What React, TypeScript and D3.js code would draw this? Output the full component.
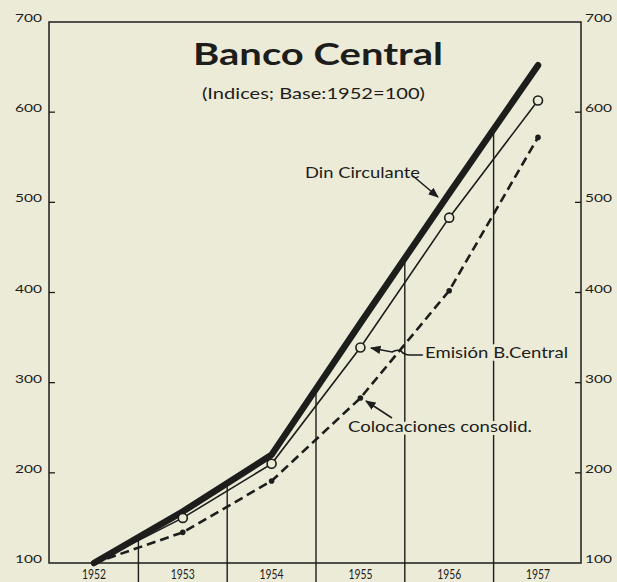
import React from "react";
import * as d3 from "d3";

const years = [1952, 1953, 1954, 1955, 1956, 1957];
const dinCirculante = [100, 157, 220, 366, 510, 652];
const emisionBCentral = [100, 150, 210, 339, 483, 613];
const colocacionesConsolid = [100, 134, 191, 283, 402, 572];
const yTicks = [100, 200, 300, 400, 500, 600, 700];

const W = 617;
const H = 582;
const BG = "#ecebd8";
const INK = "#1d1d1b";
const FONT = "Lato, 'DejaVu Sans', sans-serif";

export default function App() {
  const x = d3.scaleLinear().domain([1952, 1957]).range([94, 538]);
  const y = d3.scaleLinear().domain([100, 700]).range([563, 22]);
  const left = 49;
  const right = 581;

  const line = d3
    .line<number>()
    .x((_, i) => x(years[i]))
    .y((d) => y(d));

  const mids = years.slice(0, -1).map((yr, i) => ({
    x: (x(yr) + x(years[i + 1])) / 2,
    v: (dinCirculante[i] + dinCirculante[i + 1]) / 2,
  }));

  const knock = {
    paintOrder: "stroke" as const,
    stroke: BG,
    strokeWidth: 6,
    strokeLinejoin: "round" as const,
  };

  return (
    <svg
      width={W}
      height={H}
      style={{ position: "fixed", left: 0, top: 0, background: BG }}
    >
      <defs>
        <marker
          id="arr"
          viewBox="0 0 10 10"
          refX="9"
          refY="5"
          markerWidth="7"
          markerHeight="7"
          orient="auto"
        >
          <path d="M0,1 L10,5 L0,9 Z" fill={INK} />
        </marker>
      </defs>
      <rect x={0} y={0} width={W} height={H} fill={BG} />

      {/* mid-year vertical lines */}
      {mids.map((m, i) => (
        <line
          key={i}
          x1={m.x}
          x2={m.x}
          y1={582}
          y2={y(m.v)}
          stroke={INK}
          strokeWidth={1.4}
        />
      ))}

      {/* frame */}
      <rect
        x={left}
        y={y(700)}
        width={right - left}
        height={y(100) - y(700)}
        fill="none"
        stroke={INK}
        strokeWidth={1.5}
      />

      {/* ticks */}
      {yTicks.slice(1, -1).map((v) => (
        <g key={v}>
          <line x1={left} x2={left + 6} y1={y(v)} y2={y(v)} stroke={INK} strokeWidth={1.3} />
          <line x1={right - 6} x2={right} y1={y(v)} y2={y(v)} stroke={INK} strokeWidth={1.3} />
        </g>
      ))}

      {/* y labels */}
      {yTicks.map((v) => (
        <g key={"l" + v} fontFamily={FONT} fontSize={12} fill={INK}>
          <text
            x={42}
            y={y(v) - 3}
            textAnchor="end"
            dominantBaseline="middle"
            textLength={27}
            lengthAdjust="spacingAndGlyphs"
          >
            {v}
          </text>
          <text
            x={585}
            y={y(v) - 3}
            textAnchor="start"
            dominantBaseline="middle"
            textLength={27}
            lengthAdjust="spacingAndGlyphs"
          >
            {v}
          </text>
        </g>
      ))}

      {/* x labels */}
      {years.map((yr) => (
        <text
          key={yr}
          x={x(yr)}
          y={575}
          textAnchor="middle"
          dominantBaseline="middle"
          fontFamily={FONT}
          fontSize={14}
          fill={INK}
          textLength={24}
          lengthAdjust="spacingAndGlyphs"
        >
          {yr}
        </text>
      ))}

      {/* series */}
      <path
        d={line(colocacionesConsolid) || ""}
        fill="none"
        stroke={INK}
        strokeWidth={2.6}
        strokeDasharray="9 5"
      />
      <path d={line(emisionBCentral) || ""} fill="none" stroke={INK} strokeWidth={1.6} />
      <path
        d={line(dinCirculante) || ""}
        fill="none"
        stroke={INK}
        strokeWidth={6.5}
        strokeLinecap="round"
        strokeLinejoin="round"
      />
      {colocacionesConsolid.slice(1).map((v, i) => (
        <circle key={"c" + i} cx={x(years[i + 1])} cy={y(v)} r={2.8} fill={INK} />
      ))}
      {emisionBCentral.slice(1).map((v, i) => (
        <circle
          key={"e" + i}
          cx={x(years[i + 1])}
          cy={y(v)}
          r={4.5}
          fill={BG}
          stroke={INK}
          strokeWidth={1.6}
        />
      ))}

      {/* title */}
      <text
        x={193}
        y={65}
        fontFamily={FONT}
        fontWeight="bold"
        fontSize={30}
        fill={INK}
        textLength={250}
        lengthAdjust="spacingAndGlyphs"
      >
        Banco Central
      </text>
      <text
        x={202}
        y={99}
        fontFamily={FONT}
        fontSize={16}
        fill={INK}
        textLength={223}
        lengthAdjust="spacingAndGlyphs"
      >
        (Indices; Base:1952=100)
      </text>

      {/* annotations */}
      <text
        x={305}
        y={178}
        fontFamily={FONT}
        fontSize={15}
        fill={INK}
        textLength={115}
        lengthAdjust="spacingAndGlyphs"
        style={knock}
      >
        Din Circulante
      </text>
      <line x1={413} y1={176} x2={438} y2={197} stroke={INK} strokeWidth={1.5} markerEnd="url(#arr)" />

      <path
        d="M424,355 L410,355 Q404,355 401,351 Q397,349 392,352 L371,348"
        fill="none"
        stroke={INK}
        strokeWidth={1.5}
        markerEnd="url(#arr)"
      />
      <text
        x={425}
        y={358}
        fontFamily={FONT}
        fontSize={15}
        fill={INK}
        textLength={143}
        lengthAdjust="spacingAndGlyphs"
        style={knock}
      >
        Emisión B.Central
      </text>

      <line x1={392} y1={418} x2={366} y2={401} stroke={INK} strokeWidth={1.5} markerEnd="url(#arr)" />
      <text
        x={348}
        y={432}
        fontFamily={FONT}
        fontSize={15}
        fill={INK}
        textLength={184}
        lengthAdjust="spacingAndGlyphs"
        style={knock}
      >
        Colocaciones consolid.
      </text>
    </svg>
  );
}
